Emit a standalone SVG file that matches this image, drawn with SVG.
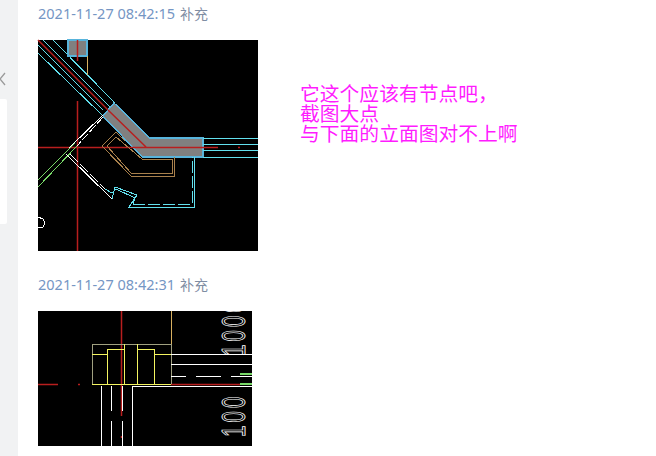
<svg xmlns="http://www.w3.org/2000/svg" width="656" height="456" viewBox="0 0 656 456">
<style>
.t{font-family:"Noto Sans","Noto Sans CJK SC",sans-serif;font-size:14px;fill:#7596c4}
.s{font-family:"Noto Sans CJK SC",sans-serif;font-size:14px;fill:#7f8da3}
.m{font-family:"Noto Sans CJK SC",sans-serif;font-size:19.8px;fill:#ff1cff}
.cad{shape-rendering:crispEdges}
.cad path{fill:none;stroke-width:1}
.c{stroke:#62e0ee}.l{stroke:#58b4dc}.w{stroke:#fff}.y{stroke:#f4f460}.o{stroke:#a0a080}.b{stroke:#a8804c}.n{stroke:#d8b060}.g{stroke:#78d868}
.cad path.r{stroke:#b81e1e;stroke-width:1.5;shape-rendering:auto}
.cad path.band{fill:#808080;stroke:#58b4dc;stroke-width:1.4}
.cad path.thick{stroke-width:1.6}
.num{font-family:"Liberation Sans",sans-serif;font-size:33px;letter-spacing:5px;fill:none;stroke:#fff;stroke-width:.9}
</style>
<defs><clipPath id="k"><rect x="38" y="311" width="214" height="135"/></clipPath></defs>
<rect width="656" height="456" fill="#fff"/>
<rect width="18" height="456" fill="#f1f2f3"/>
<rect x="-6" y="99" width="13" height="125" rx="2" fill="#fff"/>
<path d="M5 73L0 79L5 85" fill="none" stroke="#9a9a9a" stroke-width="1.3"/>
<text class="t" x="38" y="19" textLength="137" lengthAdjust="spacingAndGlyphs">2021-11-27 08:42:15</text><text class="s" x="180" y="19">补充</text>
<text class="t" x="38" y="290" textLength="137" lengthAdjust="spacingAndGlyphs">2021-11-27 08:42:31</text><text class="s" x="180" y="290">补充</text>
<g id="drawing1" class="cad">
<rect x="38" y="40" width="220" height="211" fill="#000"/>
<path class="c" d="M38 53L102 115M38 45L103 110M43 40L110 107M53 40L115 103"/>
<path class="r" d="M38 40L108 110"/>
<path class="band" d="M68 40H87V56H68Z"/>
<path class="band" d="M103 116L114 103L150 138H203V157H142Z"/>
<path class="c" d="M203 138H258M203 144H258M203 150H258M203 157H258"/>
<path class="r" d="M77.5 40V61M77.5 101V251M38 147.500H218M238 147.500H240M108 110L146 147"/>
<path class="n" d="M87 56V75"/>
<path class="b" d="M102 146L116 132L125 141M102 146L131 176H174V157M107 146L116 137L142 159H172V173H131L107 146"/>
<path class="w" d="M103 115L69 148"/>
<path class="w" stroke-dasharray="9 2" d="M103 117L77 146"/>
<path class="g" d="M38 180L75 143M38 187L77 146"/>
<path class="w" d="M66 154L112 199"/>
<path class="w" stroke-dasharray="12 2" d="M70 154L105 189"/>
<path class="c" d="M112 199L115 187L137 195L129 207H194V157M105 189L112 193L116 189L135 198L133 204"/>
<path class="c" stroke-dasharray="12 3" d="M133 204H192V157"/>
<path class="w" d="M38 217L43 219L45 223L43 227L38 228"/>
</g>
<g id="drawing2" class="cad">
<rect x="38" y="311" width="214" height="135" fill="#000"/>
<path class="r" d="M121.5 311V416M121.5 436V438M38 384.500H58M78 384.500H80M171 384.500H240"/>
<path class="o" d="M92 384V344H171V384"/>
<path class="n" d="M171 311V344"/>
<path class="y" d="M92 354H107M107 384V349H124M124 344V384M137 344V384M137 349H154V384M154 354H171M92 384H171"/>
<path class="w" d="M101 386V446M111 386V411M111 421V446M122 386V411M122 421V446M132 446V386H252M171 354H252M171 364H252M171 376H186M196 376H221M231 376H252"/>
<path class="g thick" d="M240 384H252M240 374H252"/>
</g>
<g clip-path="url(#k)">
<text class="num" transform="translate(245 356) rotate(-90) scale(.62 1)">1000</text>
<text class="num" transform="translate(245 437) rotate(-90) scale(.62 1)">100</text>
</g>
<text class="m"><tspan x="300" y="101">它这个应该有节点吧，</tspan><tspan x="300" y="121">截图大点</tspan><tspan x="300" y="141">与下面的立面图对不上啊</tspan></text>
</svg>
